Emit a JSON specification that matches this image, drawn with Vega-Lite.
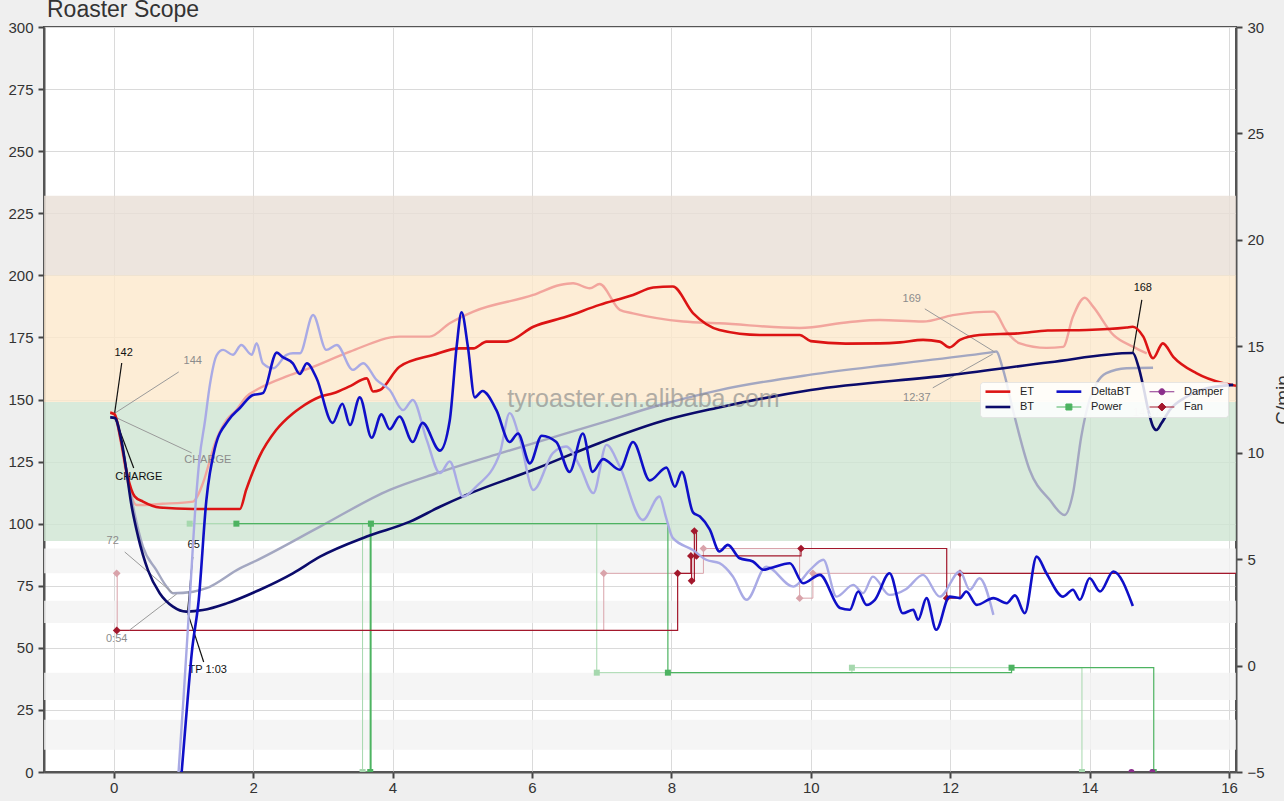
{
  "$schema": "https://vega.github.io/schema/vega-lite/v6.json",
  "width": 1192,
  "height": 745,
  "autosize": {"type": "none"},
  "padding": {"left": 44, "top": 27, "right": 48, "bottom": 29},
  "background": "#efefef",
  "title": {"text": "Roaster Scope", "anchor": "start", "frame": "group", "fontSize": 23, "fontWeight": "normal", "color": "#333333", "font": "Liberation Sans", "offset": 0, "baseline": "alphabetic", "dx": 3, "dy": 20},
  "datasets": {
    "bands": [
      {"zone": "roast", "lo": 200, "hi": 232},
      {"zone": "dry", "lo": 149, "hi": 200},
      {"zone": "green", "lo": 93, "hi": 149},
      {"zone": "stripe", "lo": 80, "hi": 90},
      {"zone": "stripe", "lo": 60, "hi": 69},
      {"zone": "stripe", "lo": 29, "hi": 40},
      {"zone": "stripe", "lo": 9, "hi": 21}
    ],
    "et": [
      {"t": -0.05, "v": 144.7}, {"t": 0.014, "v": 144}, {"t": 0.1, "v": 134}, {"t": 0.2, "v": 119}, {"t": 0.3, "v": 111}, {"t": 0.42, "v": 108.9}, {"t": 0.66, "v": 106.5}, {"t": 1.14, "v": 105.9}, {"t": 1.81, "v": 105.9}, {"t": 1.9, "v": 113.6}, {"t": 2.09, "v": 127}, {"t": 2.33, "v": 137.7}, {"t": 2.57, "v": 144.4}, {"t": 2.67, "v": 146.5}, {"t": 2.96, "v": 151.1}, {"t": 3.15, "v": 152.5}, {"t": 3.4, "v": 155.5}, {"t": 3.63, "v": 158.5}, {"t": 3.72, "v": 153.2}, {"t": 3.82, "v": 153.8}, {"t": 4.1, "v": 163.2}, {"t": 4.58, "v": 167.9}, {"t": 4.96, "v": 170.6}, {"t": 5.16, "v": 170.6}, {"t": 5.35, "v": 173.3}, {"t": 5.63, "v": 173.3}, {"t": 6.02, "v": 179.3}, {"t": 6.49, "v": 183.3}, {"t": 6.97, "v": 188.1}, {"t": 7.45, "v": 192.1}, {"t": 7.74, "v": 195.1}, {"t": 8.02, "v": 195.5}, {"t": 8.31, "v": 184.8}, {"t": 8.69, "v": 178}, {"t": 9.27, "v": 176}, {"t": 9.84, "v": 176}, {"t": 10, "v": 173.5}, {"t": 10.5, "v": 172.5}, {"t": 10.99, "v": 172.6}, {"t": 11.28, "v": 173}, {"t": 11.61, "v": 174}, {"t": 11.85, "v": 173.3}, {"t": 11.99, "v": 171}, {"t": 12.14, "v": 174}, {"t": 12.42, "v": 176}, {"t": 13.0, "v": 176.7}, {"t": 13.4, "v": 177.8}, {"t": 13.96, "v": 178}, {"t": 14.53, "v": 179}, {"t": 14.62, "v": 179.3}, {"t": 14.77, "v": 175.3}, {"t": 14.91, "v": 166.6}, {"t": 15.05, "v": 172.6}, {"t": 15.2, "v": 167.2}, {"t": 15.53, "v": 160.6}, {"t": 15.92, "v": 156.5}, {"t": 16.1, "v": 155.5}
    ],
    "bt": [
      {"t": -0.05, "v": 142.8}, {"t": 0.014, "v": 142.6}, {"t": 0.11, "v": 133.7}, {"t": 0.18, "v": 121.6}, {"t": 0.25, "v": 108.2}, {"t": 0.35, "v": 94.8}, {"t": 0.49, "v": 81.4}, {"t": 0.66, "v": 72}, {"t": 0.85, "v": 66.6}, {"t": 1.04, "v": 64.6}, {"t": 1.28, "v": 65.2}, {"t": 1.62, "v": 67.9}, {"t": 2.09, "v": 73.3}, {"t": 2.57, "v": 80}, {"t": 2.96, "v": 86.7}, {"t": 3.63, "v": 94.8}, {"t": 4.25, "v": 100.8}, {"t": 4.68, "v": 106.8}, {"t": 5.06, "v": 111.6}, {"t": 6.01, "v": 121.6}, {"t": 6.97, "v": 132.5}, {"t": 7.93, "v": 141.8}, {"t": 8.65, "v": 146.6}, {"t": 10, "v": 153.8}, {"t": 12, "v": 159.8}, {"t": 13.43, "v": 165}, {"t": 14.62, "v": 168.7}, {"t": 14.7, "v": 163.3}, {"t": 14.77, "v": 155.2}, {"t": 14.84, "v": 145.8}, {"t": 14.91, "v": 139.1}, {"t": 14.96, "v": 137.7}, {"t": 15.03, "v": 140.4}, {"t": 15.15, "v": 145.8}, {"t": 15.39, "v": 151.1}, {"t": 15.68, "v": 154.5}, {"t": 16.06, "v": 155.9}
    ],
    "bg_et": [
      {"t": -0.05, "v": 145}, {"t": 0.014, "v": 144.2}, {"t": 0.1, "v": 133}, {"t": 0.2, "v": 117}, {"t": 0.33, "v": 107.5}, {"t": 0.7, "v": 108}, {"t": 1.14, "v": 108.9}, {"t": 1.2, "v": 111}, {"t": 1.28, "v": 116.3}, {"t": 1.47, "v": 133.7}, {"t": 1.62, "v": 141.8}, {"t": 1.76, "v": 145.8}, {"t": 1.9, "v": 151.1}, {"t": 2.09, "v": 154.5}, {"t": 2.5, "v": 159.5}, {"t": 2.81, "v": 162.6}, {"t": 3.39, "v": 169.3}, {"t": 4.1, "v": 175.3}, {"t": 4.53, "v": 175.3}, {"t": 4.82, "v": 180.7}, {"t": 5.16, "v": 185.4}, {"t": 6.02, "v": 192.1}, {"t": 6.4, "v": 196.1}, {"t": 6.59, "v": 196.8}, {"t": 6.83, "v": 194.8}, {"t": 6.97, "v": 196.5}, {"t": 7.26, "v": 186.1}, {"t": 7.45, "v": 184.7}, {"t": 8.17, "v": 181.4}, {"t": 8.69, "v": 180.7}, {"t": 9.84, "v": 178.8}, {"t": 10.56, "v": 181.2}, {"t": 10.99, "v": 182}, {"t": 11.61, "v": 181.4}, {"t": 12.04, "v": 184}, {"t": 12.62, "v": 185.4}, {"t": 12.81, "v": 177.3}, {"t": 13.0, "v": 172.6}, {"t": 13.38, "v": 170.8}, {"t": 13.62, "v": 171.2}, {"t": 13.76, "v": 183.3}, {"t": 13.93, "v": 191}, {"t": 14.05, "v": 187.4}, {"t": 14.34, "v": 176}, {"t": 14.62, "v": 171.3}, {"t": 14.82, "v": 168.6}
    ],
    "bg_bt": [
      {"t": -0.05, "v": 143}, {"t": 0.014, "v": 142.5}, {"t": 0.1, "v": 134}, {"t": 0.2, "v": 119}, {"t": 0.3, "v": 104}, {"t": 0.42, "v": 90.7}, {"t": 0.61, "v": 81.4}, {"t": 0.76, "v": 74.6}, {"t": 0.85, "v": 72}, {"t": 1.14, "v": 72.6}, {"t": 1.33, "v": 74}, {"t": 1.81, "v": 82}, {"t": 2.0, "v": 84.5}, {"t": 2.96, "v": 98.8}, {"t": 3.96, "v": 113.6}, {"t": 4.63, "v": 120.3}, {"t": 5.54, "v": 128.3}, {"t": 6.97, "v": 140.4}, {"t": 7.93, "v": 148.5}, {"t": 8.69, "v": 153.8}, {"t": 10, "v": 160}, {"t": 11.28, "v": 164.5}, {"t": 12.61, "v": 169.1}, {"t": 12.66, "v": 169.3}, {"t": 12.76, "v": 161.9}, {"t": 12.9, "v": 145.8}, {"t": 13.14, "v": 121.6}, {"t": 13.43, "v": 109.5}, {"t": 13.64, "v": 103.5}, {"t": 13.76, "v": 112}, {"t": 13.88, "v": 135}, {"t": 14.0, "v": 150}, {"t": 14.1, "v": 156.5}, {"t": 14.24, "v": 160.6}, {"t": 14.53, "v": 162.6}, {"t": 14.91, "v": 162.8}
    ],
    "ror": [
      {"t": 0.975, "v": -5}, {"t": 1.06, "v": -1.6}, {"t": 1.12, "v": 0.6}, {"t": 1.22, "v": 3.1}, {"t": 1.33, "v": 7.8}, {"t": 1.45, "v": 10.2}, {"t": 1.64, "v": 11.5}, {"t": 1.81, "v": 12.1}, {"t": 1.99, "v": 12.7}, {"t": 2.14, "v": 12.8}, {"t": 2.34, "v": 14.7}, {"t": 2.42, "v": 14.5}, {"t": 2.57, "v": 14.2}, {"t": 2.67, "v": 13.7}, {"t": 2.77, "v": 14.2}, {"t": 2.91, "v": 13.5}, {"t": 3.14, "v": 11.4}, {"t": 3.28, "v": 12.3}, {"t": 3.39, "v": 11.3}, {"t": 3.53, "v": 12.6}, {"t": 3.7, "v": 10.7}, {"t": 3.84, "v": 11.8}, {"t": 3.96, "v": 11.1}, {"t": 4.1, "v": 11.7}, {"t": 4.29, "v": 10.5}, {"t": 4.43, "v": 11.4}, {"t": 4.68, "v": 10.1}, {"t": 4.82, "v": 11.5}, {"t": 4.92, "v": 15.0}, {"t": 4.99, "v": 16.6}, {"t": 5.08, "v": 15.0}, {"t": 5.18, "v": 12.6}, {"t": 5.29, "v": 12.9}, {"t": 5.49, "v": 12.0}, {"t": 5.68, "v": 10.5}, {"t": 5.8, "v": 10.9}, {"t": 5.97, "v": 9.5}, {"t": 6.14, "v": 10.8}, {"t": 6.35, "v": 10.5}, {"t": 6.54, "v": 9.1}, {"t": 6.73, "v": 10.9}, {"t": 6.87, "v": 9.1}, {"t": 7.02, "v": 9.7}, {"t": 7.26, "v": 9.2}, {"t": 7.45, "v": 10.5}, {"t": 7.69, "v": 8.7}, {"t": 7.93, "v": 9.3}, {"t": 8.05, "v": 8.4}, {"t": 8.15, "v": 9.1}, {"t": 8.31, "v": 7.2}, {"t": 8.41, "v": 7.0}, {"t": 8.55, "v": 6.4}, {"t": 8.69, "v": 5.36}, {"t": 8.81, "v": 5.67}, {"t": 8.98, "v": 5.04}, {"t": 9.17, "v": 4.89}, {"t": 9.32, "v": 4.5}, {"t": 9.41, "v": 4.57}, {"t": 9.7, "v": 4.81}, {"t": 9.89, "v": 3.87}, {"t": 10.13, "v": 4.26}, {"t": 10.42, "v": 2.7}, {"t": 10.56, "v": 2.62}, {"t": 10.68, "v": 3.48}, {"t": 10.8, "v": 2.85}, {"t": 10.92, "v": 3.09}, {"t": 11.13, "v": 4.34}, {"t": 11.32, "v": 2.46}, {"t": 11.47, "v": 2.62}, {"t": 11.54, "v": 2.15}, {"t": 11.66, "v": 3.17}, {"t": 11.8, "v": 1.68}, {"t": 11.99, "v": 3.24}, {"t": 12.14, "v": 3.17}, {"t": 12.23, "v": 3.48}, {"t": 12.38, "v": 2.85}, {"t": 12.62, "v": 3.17}, {"t": 12.81, "v": 2.93}, {"t": 12.93, "v": 3.3}, {"t": 13.07, "v": 2.46}, {"t": 13.24, "v": 5.12}, {"t": 13.38, "v": 4.34}, {"t": 13.62, "v": 3.24}, {"t": 13.76, "v": 3.56}, {"t": 13.86, "v": 3.09}, {"t": 14.0, "v": 4.1}, {"t": 14.15, "v": 3.48}, {"t": 14.34, "v": 4.42}, {"t": 14.62, "v": 2.8}
    ],
    "bg_ror": [
      {"t": 0.93, "v": -5}, {"t": 1.0, "v": -1.6}, {"t": 1.09, "v": 3.1}, {"t": 1.18, "v": 7.8}, {"t": 1.23, "v": 9.7}, {"t": 1.31, "v": 11.5}, {"t": 1.38, "v": 13.2}, {"t": 1.48, "v": 14.6}, {"t": 1.57, "v": 14.83}, {"t": 1.71, "v": 14.6}, {"t": 1.83, "v": 15.06}, {"t": 1.98, "v": 14.6}, {"t": 2.05, "v": 15.14}, {"t": 2.14, "v": 14.2}, {"t": 2.29, "v": 13.97}, {"t": 2.48, "v": 14.6}, {"t": 2.57, "v": 14.67}, {"t": 2.67, "v": 14.67}, {"t": 2.86, "v": 16.47}, {"t": 3.05, "v": 14.83}, {"t": 3.2, "v": 15.06}, {"t": 3.43, "v": 13.89}, {"t": 3.58, "v": 14.2}, {"t": 3.77, "v": 13.42}, {"t": 3.96, "v": 12.95}, {"t": 4.15, "v": 12.0}, {"t": 4.29, "v": 12.48}, {"t": 4.49, "v": 10.6}, {"t": 4.68, "v": 9.04}, {"t": 4.82, "v": 9.59}, {"t": 5.01, "v": 7.94}, {"t": 5.2, "v": 8.41}, {"t": 5.54, "v": 9.98}, {"t": 5.68, "v": 11.86}, {"t": 5.83, "v": 10.6}, {"t": 6.02, "v": 8.25}, {"t": 6.3, "v": 9.98}, {"t": 6.49, "v": 10.29}, {"t": 6.69, "v": 9.35}, {"t": 6.88, "v": 8.1}, {"t": 7.07, "v": 10.37}, {"t": 7.26, "v": 9.35}, {"t": 7.59, "v": 6.84}, {"t": 7.83, "v": 7.94}, {"t": 7.92, "v": 7.0}, {"t": 8.02, "v": 6.0}, {"t": 8.31, "v": 5.43}, {"t": 8.5, "v": 4.97}, {"t": 8.69, "v": 4.81}, {"t": 8.88, "v": 4.2}, {"t": 9.08, "v": 3.09}, {"t": 9.36, "v": 4.65}, {"t": 9.75, "v": 3.71}, {"t": 9.99, "v": 4.5}, {"t": 10.18, "v": 4.97}, {"t": 10.37, "v": 3.24}, {"t": 10.61, "v": 3.79}, {"t": 10.75, "v": 3.4}, {"t": 10.89, "v": 4.18}, {"t": 11.13, "v": 3.32}, {"t": 11.37, "v": 3.6}, {"t": 11.61, "v": 4.26}, {"t": 11.85, "v": 3.24}, {"t": 12.14, "v": 4.42}, {"t": 12.28, "v": 3.56}, {"t": 12.42, "v": 4.1}, {"t": 12.62, "v": 2.38}
    ],
    "power": [
      {"t": 1.76, "v": 100}, {"t": 3.68, "v": 0}, {"t": 3.69, "v": 100}, {"t": 7.95, "v": 40}, {"t": 12.88, "v": 42}, {"t": 14.92, "v": 0}
    ],
    "bg_power": [
      {"t": 1.09, "v": 100}, {"t": 3.57, "v": 0}, {"t": 3.69, "v": 100}, {"t": 6.93, "v": 40}, {"t": 10.59, "v": 42}, {"t": 13.89, "v": 0}
    ],
    "fan": [
      {"t": 0.043, "v": 57}, {"t": 8.09, "v": 80}, {"t": 8.28, "v": 87}, {"t": 8.29, "v": 77}, {"t": 8.33, "v": 97}, {"t": 8.36, "v": 87}, {"t": 9.86, "v": 90}, {"t": 11.95, "v": 70}, {"t": 12.14, "v": 80}, {"t": 16.1, "v": 80}
    ],
    "bg_fan": [
      {"t": 0.043, "v": 80}, {"t": 0.05, "v": 57}, {"t": 7.03, "v": 80}, {"t": 8.46, "v": 90}, {"t": 9.84, "v": 70}, {"t": 10.03, "v": 80}, {"t": 16.1, "v": 80}
    ],
    "damper": [
      {"t": 14.6, "v": 0}, {"t": 14.9, "v": 0}
    ],
    "notes_black": [
      {"t": 0.143, "v": 168.7, "label": "142"}, {"t": 0.359, "v": 118.8, "label": "CHARGE"}, {"t": 1.148, "v": 91.4, "label": "65"}, {"t": 1.349, "v": 41.1, "label": "TP 1:03"}, {"t": 14.763, "v": 194.9, "label": "168"}
    ],
    "notes_gray": [
      {"t": 1.133, "v": 165.5, "label": "144"}, {"t": 1.349, "v": 125.7, "label": "CHARGE"}, {"t": -0.014, "v": 93.0, "label": "72"}, {"t": 0.043, "v": 53.6, "label": "0:54"}, {"t": 11.449, "v": 190.5, "label": "169"}, {"t": 11.521, "v": 150.6, "label": "12:37"}
    ],
    "notes_faint": [
      {"t": 14.82, "v": 144.6, "label": "14:37"}
    ],
    "leaders_black": [
      {"t": 0.115, "v": 164.7, "t2": 0.014, "v2": 144.6}, {"t": 0.014, "v": 143.0, "t2": 0.287, "v2": 122.4}, {"t": 1.133, "v": 86.6, "t2": 1.062, "v2": 65.2}, {"t": 1.062, "v": 64.0, "t2": 1.291, "v2": 44.3}, {"t": 14.749, "v": 190.1, "t2": 14.62, "v2": 168.7}
    ],
    "leaders_gray": [
      {"t": 0, "v": 144.2, "t2": 0.933, "v2": 161.1}, {"t": 0.043, "v": 142.6, "t2": 1.119, "v2": 128.5}, {"t": 0.158, "v": 88.6, "t2": 0.846, "v2": 72.1}, {"t": 0.23, "v": 57.2, "t2": 0.904, "v2": 71.7}, {"t": 11.636, "v": 186.5, "t2": 12.64, "v2": 169.1}, {"t": 11.75, "v": 154.7, "t2": 12.61, "v2": 168.3}
    ],
    "watermark": [
      {"t": 7.6, "v": 147, "label": "tyroaster.en.alibaba.com"}
    ]
  },
  "layer": [
    {
      "layer": [
        {
          "data": {"name": "bands"},
          "mark": {"type": "rect", "opacity": 0.8},
          "encoding": {
            "y": {"field": "lo", "type": "quantitative", "title": null, "scale": {"domain": [0, 300], "nice": false, "zero": false}, "axis": {"values": [0, 25, 50, 75, 100, 125, 150, 175, 200, 225, 250, 275, 300], "grid": true, "title": null, "labelPadding": 5}},
            "y2": {"field": "hi"},
            "fill": {"field": "zone", "type": "nominal", "legend": null, "scale": {"domain": ["roast", "dry", "green", "stripe"], "range": ["#e8ded6", "#fce8cc", "#cee5d2", "#f3f3f3"]}}
          }
        },
        {
          "data": {"name": "bg_et"},
          "mark": {"type": "line", "color": "#f2a59d", "strokeWidth": 2.4, "interpolate": "monotone", "clip": true},
          "encoding": {
            "x": {"field": "t", "type": "quantitative", "title": null, "scale": {"domain": [-1, 16.1], "nice": false, "zero": false}, "axis": {"values": [0, 2, 4, 6, 8, 10, 12, 14, 16], "format": "d", "grid": true, "title": null, "labelPadding": 2}},
            "y": {"field": "v", "type": "quantitative", "title": null}
          }
        },
        {
          "data": {"name": "bg_bt"},
          "mark": {"type": "line", "color": "#a3a7c1", "strokeWidth": 2.4, "interpolate": "monotone", "clip": true},
          "encoding": {
            "x": {"field": "t", "type": "quantitative", "title": null},
            "y": {"field": "v", "type": "quantitative", "title": null}
          }
        },
        {
          "data": {"name": "bg_power"},
          "mark": {"type": "line", "color": "#a6d8ae", "strokeWidth": 1, "interpolate": "step-after", "clip": true},
          "encoding": {
            "x": {"field": "t", "type": "quantitative", "title": null},
            "y": {"field": "v", "type": "quantitative", "title": null}
          }
        },
        {
          "data": {"name": "bg_power"},
          "mark": {"type": "point", "shape": "square", "filled": true, "size": 36, "color": "#a6d8ae", "opacity": 1, "clip": true},
          "encoding": {
            "x": {"field": "t", "type": "quantitative", "title": null},
            "y": {"field": "v", "type": "quantitative", "title": null}
          }
        },
        {
          "data": {"name": "bg_fan"},
          "mark": {"type": "line", "color": "#d9a3aa", "strokeWidth": 1, "interpolate": "step-after", "clip": true},
          "encoding": {
            "x": {"field": "t", "type": "quantitative", "title": null},
            "y": {"field": "v", "type": "quantitative", "title": null}
          }
        },
        {
          "data": {"name": "bg_fan"},
          "transform": [{"filter": "datum.t < 16"}],
          "mark": {"type": "point", "shape": "diamond", "filled": true, "size": 60, "color": "#d9a3aa", "opacity": 1, "clip": true},
          "encoding": {
            "x": {"field": "t", "type": "quantitative", "title": null},
            "y": {"field": "v", "type": "quantitative", "title": null}
          }
        },
        {
          "data": {"name": "power"},
          "mark": {"type": "line", "strokeWidth": 1.2, "interpolate": "step-after", "clip": true},
          "encoding": {
            "x": {"field": "t", "type": "quantitative", "title": null},
            "y": {"field": "v", "type": "quantitative", "title": null},
            "color": {
              "datum": "Power",
              "type": "nominal",
              "scale": {"domain": ["ET", "BT", "DeltaBT", "Power", "Damper", "Fan"], "range": ["#dc1414", "#0b0b6b", "#0f0fc8", "#4db361", "#8b2f8b", "#a3182c"]},
              "legend": {
                "orient": "none",
                "legendX": 936,
                "legendY": 355,
                "columns": 3,
                "gridAlign": "each",
                "title": null,
                "labelFont": "Liberation Sans",
                "labelFontSize": 11,
                "labelColor": "#222222",
                "labelOffset": 25,
                "symbolSize": 64,
                "columnPadding": 16,
                "rowPadding": 3.5,
                "padding": 4,
                "fillColor": "rgba(255,255,255,0.85)",
                "strokeColor": "rgba(225,225,225,0.8)",
                "cornerRadius": 3,
                "encode": {
                  "symbols": {
                    "update": {
                      "shape": {"signal": "datum.value === 'Power' ? 'M-1,0H5.2M1.35,-0.75H2.85V0.75H1.35Z' : datum.value === 'Damper' ? 'M-1,0H5.2M2.85,0A0.75,0.75,0,1,1,1.35,0A0.75,0.75,0,1,1,2.85,0' : datum.value === 'Fan' ? 'M-1,0H5.2M2.1,-1L3.1,0L2.1,1L1.1,0Z' : 'M-1,0H5.2'"},
                      "strokeWidth": {"signal": "indexof(['ET','BT','DeltaBT'], datum.value) >= 0 ? 2.6 : 1"},
                      "fill": {"signal": "indexof(['ET','BT','DeltaBT'], datum.value) >= 0 ? 'transparent' : scale('color', datum.value)"},
                      "stroke": {"signal": "scale('color', datum.value)"},
                      "opacity": {"value": 1}
                    }
                  }
                }
              }
            }
          }
        },
        {
          "data": {"name": "power"},
          "mark": {"type": "point", "shape": "square", "filled": true, "size": 36, "opacity": 1, "clip": true},
          "encoding": {
            "x": {"field": "t", "type": "quantitative", "title": null},
            "y": {"field": "v", "type": "quantitative", "title": null},
            "color": {"datum": "Power", "type": "nominal"}
          }
        },
        {
          "data": {"name": "fan"},
          "mark": {"type": "line", "strokeWidth": 1.2, "interpolate": "step-after", "clip": true},
          "encoding": {
            "x": {"field": "t", "type": "quantitative", "title": null},
            "y": {"field": "v", "type": "quantitative", "title": null},
            "color": {"datum": "Fan", "type": "nominal"}
          }
        },
        {
          "data": {"name": "fan"},
          "transform": [{"filter": "datum.t < 16"}],
          "mark": {"type": "point", "shape": "diamond", "filled": true, "size": 60, "opacity": 1, "clip": true},
          "encoding": {
            "x": {"field": "t", "type": "quantitative", "title": null},
            "y": {"field": "v", "type": "quantitative", "title": null},
            "color": {"datum": "Fan", "type": "nominal"}
          }
        },
        {
          "data": {"name": "damper"},
          "mark": {"type": "point", "shape": "circle", "filled": true, "size": 36, "opacity": 1, "clip": true},
          "encoding": {
            "x": {"field": "t", "type": "quantitative", "title": null},
            "y": {"field": "v", "type": "quantitative", "title": null},
            "color": {"datum": "Damper", "type": "nominal"}
          }
        },
        {
          "data": {"name": "leaders_gray"},
          "mark": {"type": "rule", "color": "#9a9a9a", "strokeWidth": 1},
          "encoding": {
            "x": {"field": "t", "type": "quantitative", "title": null},
            "y": {"field": "v", "type": "quantitative", "title": null},
            "x2": {"field": "t2"},
            "y2": {"field": "v2"}
          }
        },
        {
          "data": {"name": "leaders_black"},
          "mark": {"type": "rule", "color": "#111111", "strokeWidth": 1.2},
          "encoding": {
            "x": {"field": "t", "type": "quantitative", "title": null},
            "y": {"field": "v", "type": "quantitative", "title": null},
            "x2": {"field": "t2"},
            "y2": {"field": "v2"}
          }
        },
        {
          "data": {"name": "notes_gray"},
          "mark": {"type": "text", "color": "#8c8c8c", "font": "Liberation Sans", "fontSize": 11, "align": "center", "baseline": "middle"},
          "encoding": {
            "x": {"field": "t", "type": "quantitative", "title": null},
            "y": {"field": "v", "type": "quantitative", "title": null},
            "text": {"field": "label"}
          }
        },
        {
          "data": {"name": "notes_black"},
          "mark": {"type": "text", "color": "#111111", "font": "Liberation Sans", "fontSize": 11, "align": "center", "baseline": "middle"},
          "encoding": {
            "x": {"field": "t", "type": "quantitative", "title": null},
            "y": {"field": "v", "type": "quantitative", "title": null},
            "text": {"field": "label"}
          }
        },
        {
          "data": {"name": "et"},
          "mark": {"type": "line", "strokeWidth": 2.6, "interpolate": "monotone", "clip": true},
          "encoding": {
            "x": {"field": "t", "type": "quantitative", "title": null},
            "y": {"field": "v", "type": "quantitative", "title": null},
            "color": {"datum": "ET", "type": "nominal"}
          }
        },
        {
          "data": {"name": "bt"},
          "mark": {"type": "line", "strokeWidth": 2.6, "interpolate": "monotone", "clip": true},
          "encoding": {
            "x": {"field": "t", "type": "quantitative", "title": null},
            "y": {"field": "v", "type": "quantitative", "title": null},
            "color": {"datum": "BT", "type": "nominal"}
          }
        },
        {
          "data": {"name": "notes_faint"},
          "mark": {"type": "text", "color": "#d2d2d2", "font": "Liberation Sans", "fontSize": 11, "align": "center", "baseline": "middle"},
          "encoding": {
            "x": {"field": "t", "type": "quantitative", "title": null},
            "y": {"field": "v", "type": "quantitative", "title": null},
            "text": {"field": "label"}
          }
        },
        {
          "data": {"name": "watermark"},
          "mark": {"type": "text", "color": "#8a8a8a", "opacity": 0.65, "font": "Liberation Sans", "fontSize": 25, "align": "center", "baseline": "alphabetic"},
          "encoding": {
            "x": {"field": "t", "type": "quantitative", "title": null},
            "y": {"field": "v", "type": "quantitative", "title": null},
            "text": {"field": "label"}
          }
        }
      ]
    },
    {
      "layer": [
        {
          "data": {"name": "bg_ror"},
          "mark": {"type": "line", "color": "#a9aae5", "strokeWidth": 2.4, "interpolate": "monotone", "clip": true},
          "encoding": {
            "x": {"field": "t", "type": "quantitative", "title": null},
            "y": {"field": "v", "type": "quantitative", "scale": {"domain": [-5, 30], "nice": false, "zero": false}, "axis": {"orient": "right", "values": [-5, 0, 5, 10, 15, 20, 25, 30], "grid": false, "labelPadding": 5, "title": "C/min", "titleFont": "Liberation Sans", "titleFontSize": 19, "titleFontWeight": "normal", "titleColor": "#333333", "titleAngle": 270, "titleX": 37, "titleY": 372.5, "titleBaseline": "top", "titleAlign": "center"}}
          }
        },
        {
          "data": {"name": "ror"},
          "mark": {"type": "line", "strokeWidth": 2.6, "interpolate": "monotone", "clip": true},
          "encoding": {
            "x": {"field": "t", "type": "quantitative", "title": null},
            "y": {"field": "v", "type": "quantitative"},
            "color": {"datum": "DeltaBT", "type": "nominal"}
          }
        }
      ]
    }
  ],
  "resolve": {"scale": {"y": "independent"}},
  "config": {
    "view": {"fill": "#ffffff", "stroke": "#555555", "strokeWidth": 2},
    "font": "Liberation Sans",
    "axis": {"domainColor": "#555555", "domainWidth": 2, "tickColor": "#444444", "tickWidth": 2, "tickSize": 6, "labelFont": "Liberation Sans", "labelFontSize": 15, "labelColor": "#333333", "gridColor": "#dadada", "gridWidth": 1}
  }
}
